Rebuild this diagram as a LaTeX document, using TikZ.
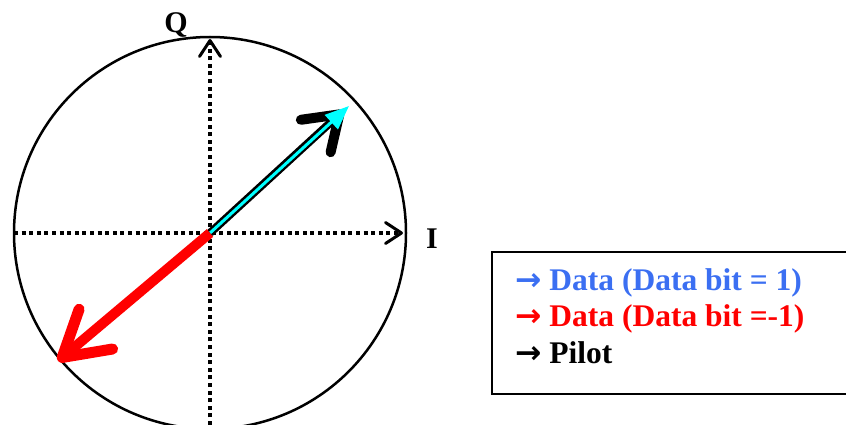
\documentclass[tikz,border=0pt]{standalone}
\usepackage{fontspec}
\setmainfont{Liberation Serif}
\newfontfamily\arrowfont{DejaVu Sans}
\usetikzlibrary{arrows.meta}

\definecolor{databit}{RGB}{59,111,242}
\definecolor{datacyan}{RGB}{0,255,255}

\begin{document}
\begin{tikzpicture}[x=1pt, y=-1pt,
  axis/.style={line width=3.5pt, dash pattern=on 4pt off 3.6pt,
    -{Straight Barb[length=16pt, width=21pt, line width=3pt, round]}},
  axislabel/.style={anchor=base, inner sep=0pt, font=\fontsize{30pt}{34pt}\selectfont\bfseries},
  pilot/.style={line width=8pt, -{Straight Barb[length=32pt, width=44pt, line width=10pt, round]}},
  data/.style={line width=3pt, datacyan, -{Triangle[length=24pt, width=19pt]}},
  flipped/.style={line width=10pt, red, -{Straight Barb[length=44pt, width=52pt, line width=11pt, round]}},
  legend/.style={anchor=base west, inner sep=0pt, font=\fontsize{31.5pt}{36pt}\selectfont\bfseries}
]
\useasboundingbox (0,0) rectangle (846,425);
\clip (0,0) rectangle (846,425);

% points
\coordinate (o)     at (210,233);
\coordinate (ileft) at (14,233);
\coordinate (itip)  at (403,233);
\coordinate (qbot)  at (210,425);
\coordinate (qtip)  at (210,39);
\coordinate (ptip)  at (343,111);
\coordinate (ctip)  at (349,106);
\coordinate (rtip)  at (58,361);

% circle
\draw[line width=2.5pt] (o) circle (196);

% axes
\draw[axis] (ileft) -- (itip);
\draw[axis] (qbot) -- (qtip);
\node[axislabel] (q) at (176,33)  {Q};
\node[axislabel] (i) at (432,248) {I};

% vectors
\draw[pilot] (o) -- (ptip);
\draw[data] (o) -- (ctip);
\draw[flipped] (o) -- (rtip);

% legend
\draw[line width=2.5pt] (492,252) rectangle (850,394);
\node[legend, text=databit] (l1) at (515,290)   {{\arrowfont →} Data (Data bit = 1)};
\node[legend, text=red]     (l2) at (515,326.5) {{\arrowfont →} Data (Data bit =-1)};
\node[legend]               (l3) at (515,363)   {{\arrowfont →} Pilot};

\end{tikzpicture}
\end{document}
